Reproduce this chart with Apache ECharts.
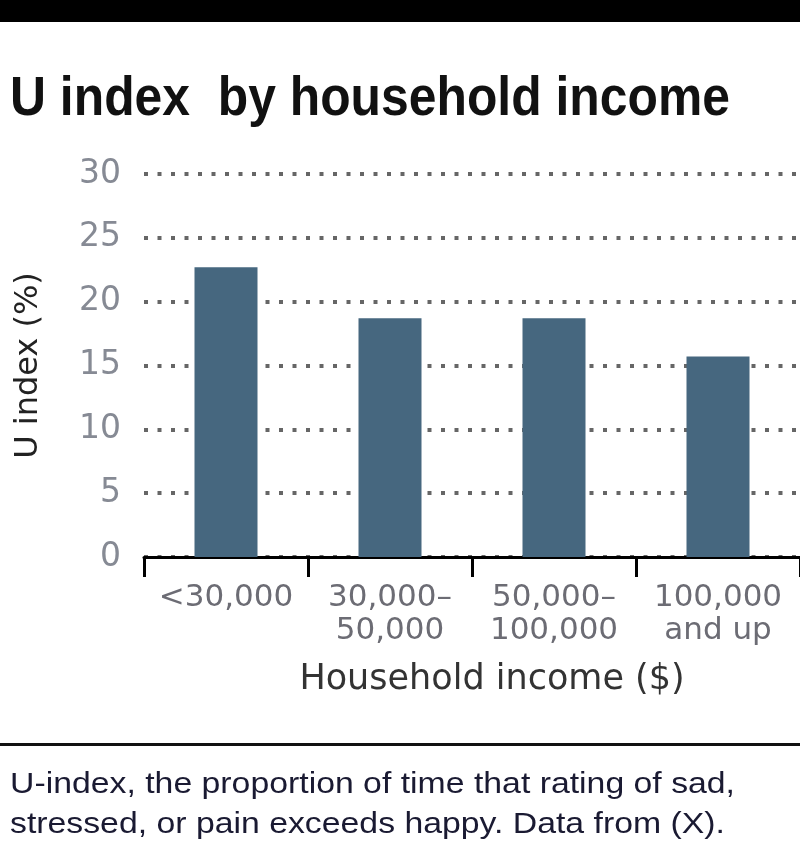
<!DOCTYPE html>
<html>
<head>
<meta charset="utf-8">
<script src="https://cdn.jsdelivr.net/npm/echarts@6/dist/echarts.min.js"></script>
<style>
  html, body { margin: 0; padding: 0; background: #fff; }
  #chart { width: 800px; height: 854px; }
</style>
</head>
<body>
<div id="chart"></div>
<script>
// data
var categories = ["<30,000", "30,000–\n50,000", "50,000–\n100,000", "100,000\nand up"];
var uIndex = [22.7, 18.7, 18.7, 15.7];
var yTicks = { min: 0, max: 30, step: 5 };

var titleText = "U index  by household income";
var captionLines = [
  "U-index, the proportion of time that rating of sad,",
  "stressed, or pain exceeds happy. Data from (X)."
];

var labelFont = "'DejaVu Sans', sans-serif";
var titleFont = "bold 56px 'Liberation Sans', Arial, sans-serif";
var captionFont = "30px 'Liberation Sans', Arial, sans-serif";

// the original uses condensed faces, so squeeze the text to the width it has there
function squeeze(text, font, wantWidth) {
  var ctx = document.createElement("canvas").getContext("2d");
  ctx.font = font;
  return wantWidth / ctx.measureText(text).width;
}
var titleScale = squeeze(titleText, titleFont, 720);
var captionScale = squeeze(captionLines[0], captionFont, 725);

var myChart = echarts.init(document.getElementById("chart"));
myChart.setOption({
  animation: false,
  backgroundColor: "#fff",
  grid: { left: 144, right: -8, top: 174, bottom: 297 },
  graphic: [
    // black band at the top
    { type: "rect", x: 0, y: 0, shape: { width: 800, height: 22 }, style: { fill: "#000" } },
    {
      type: "text", x: 10, y: 72, scaleX: titleScale,
      style: { text: titleText, font: titleFont, fill: "#111", verticalAlign: "top" }
    },
    // rule above the caption
    { type: "rect", x: 0, y: 743, shape: { width: 800, height: 3 }, style: { fill: "#111" } },
    {
      type: "text", x: 10, y: 765, scaleX: captionScale,
      style: { text: captionLines.join("\n"), font: captionFont, lineHeight: 40, fill: "#1a1a32", verticalAlign: "top" }
    }
  ],
  xAxis: {
    type: "category",
    data: categories,
    name: "Household income ($)",
    nameLocation: "middle",
    nameGap: 105,
    nameTextStyle: { fontFamily: labelFont, fontSize: 35, color: "#333", verticalAlign: "top", padding: [0, 0, 0, 40] },
    axisLine: { lineStyle: { color: "#000", width: 3 } },
    axisTick: { show: true, length: 20, lineStyle: { color: "#000", width: 3 } },
    axisLabel: {
      interval: 0, hideOverlap: false,
      fontFamily: labelFont, fontSize: 31, lineHeight: 33, color: "#6c6c74", margin: 24
    }
  },
  yAxis: {
    type: "value",
    min: yTicks.min,
    max: yTicks.max,
    interval: yTicks.step,
    name: "U index (%)",
    nameLocation: "middle",
    nameGap: 99,
    nameRotate: 90,
    nameTextStyle: { fontFamily: labelFont, fontSize: 32, color: "#222" },
    axisLine: { show: false },
    axisTick: { show: false },
    axisLabel: { fontFamily: labelFont, fontSize: 33, color: "#868a94", margin: 23 },
    splitLine: { lineStyle: { color: "#666", width: 4, type: [4, 9.5] } }
  },
  series: [
    {
      type: "bar",
      data: uIndex,
      barWidth: 63,
      itemStyle: { color: "#46677f" }
    }
  ]
});
</script>
</body>
</html>
